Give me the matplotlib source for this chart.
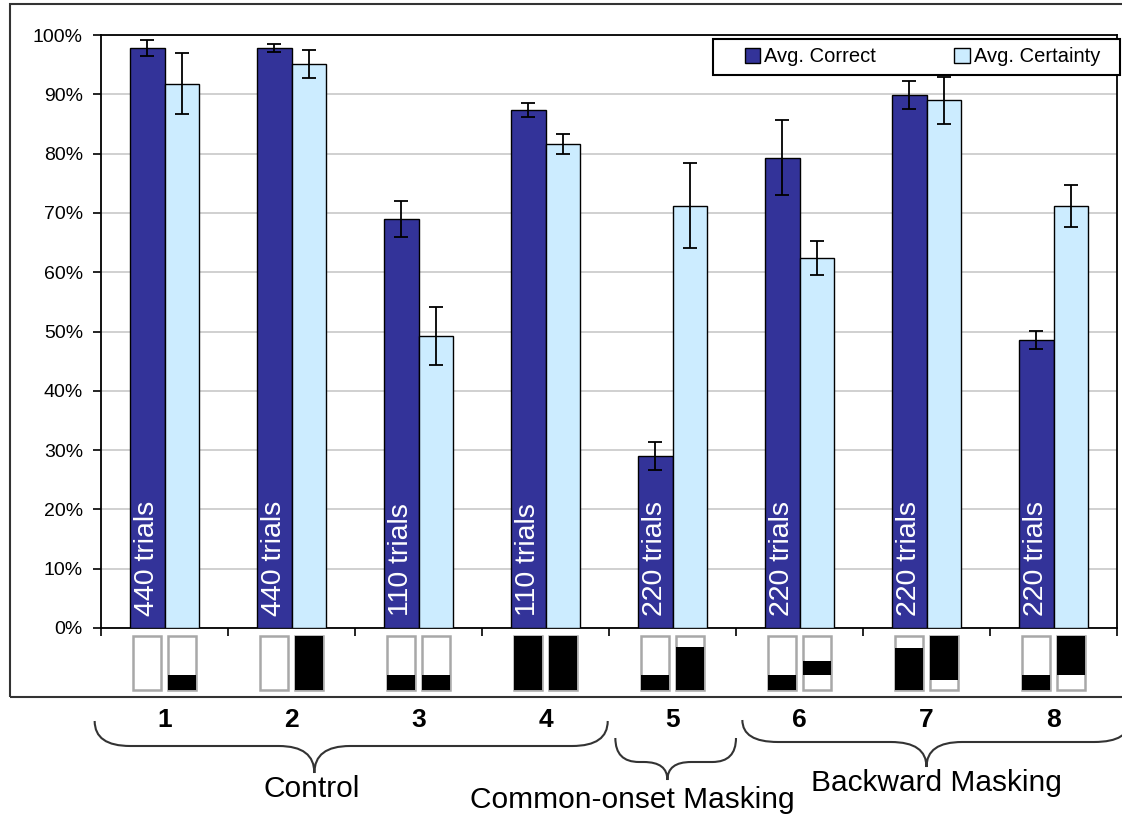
import matplotlib
matplotlib.use("Agg")
import matplotlib.pyplot as plt
import numpy as np
from matplotlib.path import Path
from matplotlib.patches import PathPatch, Rectangle
from matplotlib.transforms import blended_transform_factory

plt.rcParams['font.family'] = ['Liberation Sans', 'DejaVu Sans']

# data
conditions = [1, 2, 3, 4, 5, 6, 7, 8]
avg_correct = [97.8, 97.8, 69.0, 87.4, 29.0, 79.3, 89.9, 48.6]
err_correct = [1.3, 0.6, 3.0, 1.2, 2.3, 6.3, 2.4, 1.5]
avg_certainty = [91.8, 95.1, 49.2, 81.6, 71.2, 62.4, 89.0, 71.2]
err_certainty = [5.1, 2.4, 4.9, 1.7, 7.2, 2.9, 4.0, 3.5]
trials = ["440 trials", "440 trials", "110 trials", "110 trials",
          "220 trials", "220 trials", "220 trials", "220 trials"]

# stimulus icons: black band (bottom, top) as fraction of icon height
icon_left = [(0, 0), (0, 0), (0, 0.27), (0, 1), (0, 0.27), (0, 0.27), (0, 0.78), (0, 0.27)]
icon_right = [(0, 0.27), (0, 1), (0, 0.27), (0, 1), (0, 0.8), (0.28, 0.53), (0.18, 1), (0.28, 1)]

groups = ["Control", "Common-onset Masking", "Backward Masking"]

dark = "#333399"
light = "#CCECFF"

W, H = 1122, 815
fig = plt.figure(figsize=(W / 100, H / 100), dpi=100)

def fy(p):
    return 1 - p / H

def fx(p):
    return p / W

# outer frame
fig.add_artist(Rectangle((fx(10), fy(697)), 1.2, fy(4) - fy(697),
                         transform=fig.transFigure, fill=False,
                         edgecolor="#333333", linewidth=1.5))

ax = fig.add_axes([fx(101), fy(628), fx(1117) - fx(101), fy(35) - fy(628)])
x = np.array(conditions)
bw = 0.272
b1 = ax.bar(x - bw / 2, avg_correct, bw, color=dark, edgecolor="black", linewidth=1,
            yerr=err_correct, capsize=5, error_kw=dict(elinewidth=1.3, capthick=1.3), zorder=3)
b2 = ax.bar(x + bw / 2, avg_certainty, bw, color=light, edgecolor="black", linewidth=1,
            yerr=err_certainty, capsize=5, error_kw=dict(elinewidth=1.3, capthick=1.3), zorder=3)

for xi, t in zip(x, trials):
    ax.text(xi - bw / 2, 2, t, rotation=90, color="white", fontsize=20.5,
            ha="center", va="bottom", zorder=4)

ax.set_xlim(0.5, 8.5)
ax.set_ylim(0, 100)
ax.set_yticks(np.arange(0, 101, 10))
ax.set_yticklabels([f"{v}%" for v in range(0, 101, 10)], fontsize=14)
ax.set_xticks(np.arange(0.5, 8.6, 1))
ax.set_xticklabels([])
ax.tick_params(axis="both", direction="out", length=6, width=1.2, color="black")
ax.tick_params(axis="y", pad=7)
ax.yaxis.grid(True, color="#c8c8c8", linewidth=1.2)
ax.set_axisbelow(True)
for s in ax.spines.values():
    s.set_linewidth(1.3)

# legend: frame drawn separately, entries spread across it
ax.add_patch(Rectangle((fx(713), fy(75)), fx(1120) - fx(713), fy(39) - fy(75),
                       transform=fig.transFigure, facecolor="white", clip_on=False,
                       edgecolor="black", linewidth=1.5, zorder=9))
leg = ax.legend([b1, b2], ["Avg. Correct", "Avg. Certainty"], ncol=2, loc="center left",
                mode="expand",
                bbox_to_anchor=(fx(745), fy(75), fx(1100) - fx(745), fy(39) - fy(75)),
                bbox_transform=fig.transFigure, frameon=False, fontsize=14.5,
                handlelength=0.75, handleheight=0.75, handletextpad=0.2,
                borderaxespad=0, borderpad=0)
leg.set_zorder(10)

# icons row
iax = fig.add_axes([fx(101), fy(692), fx(1117) - fx(101), fy(634) - fy(692)])
iax.set_xlim(0.5, 8.5)
iax.set_ylim(-0.04, 1.04)
iax.axis("off")
off, iw = 0.138, 0.22
for side, icons in [(-1, icon_left), (1, icon_right)]:
    xs = x + side * off
    iax.bar(xs, [1] * 8, iw, bottom=0, color="white", edgecolor="#a8a8a8", linewidth=1.8)
    lo = [a for a, b in icons]
    hi = [b - a for a, b in icons]
    iax.bar(xs, hi, iw, bottom=lo, color="black", linewidth=0)

# condition numbers
tr = blended_transform_factory(ax.transData, fig.transFigure)
for xi in conditions:
    fig.text(xi, fy(720), str(xi), transform=tr, ha="center", va="center",
             fontsize=19, fontweight="heavy")

# braces: left end, right end, tip (category units); end, bar, tip heights (px)
brace_ends = [(0.45, 4.49, 2.18, 721, 746, 773),
              (4.55, 5.5, 4.96, 738, 762, 780),
              (5.55, 8.6, 7.0, 720, 742, 767)]
label_x = [2.16, 4.68, 7.08]
label_y = [789, 800, 783]
for (x0, x1, xt, yt, ym, yp), name, lx, ly in zip(brace_ends, groups, label_x, label_y):
    yt, ym, yp = fy(yt), fy(ym), fy(yp)
    r = min(0.28, (xt - x0) / 2.2, (x1 - xt) / 2.2)
    verts = [(x0, yt), (x0, ym), (x0 + r, ym), (xt - r, ym), (xt, ym), (xt, yp),
             (xt, ym), (xt + r, ym), (x1 - r, ym), (x1, ym), (x1, yt)]
    codes = [Path.MOVETO, Path.CURVE3, Path.CURVE3, Path.LINETO, Path.CURVE3, Path.CURVE3,
             Path.CURVE3, Path.CURVE3, Path.LINETO, Path.CURVE3, Path.CURVE3]
    fig.add_artist(PathPatch(Path(verts, codes), transform=tr, fill=False,
                             edgecolor="#333333", linewidth=1.5))
    fig.text(lx, fy(ly), name, transform=tr, ha="center", va="center", fontsize=21.5)

fig.savefig("out.png", dpi=100)
